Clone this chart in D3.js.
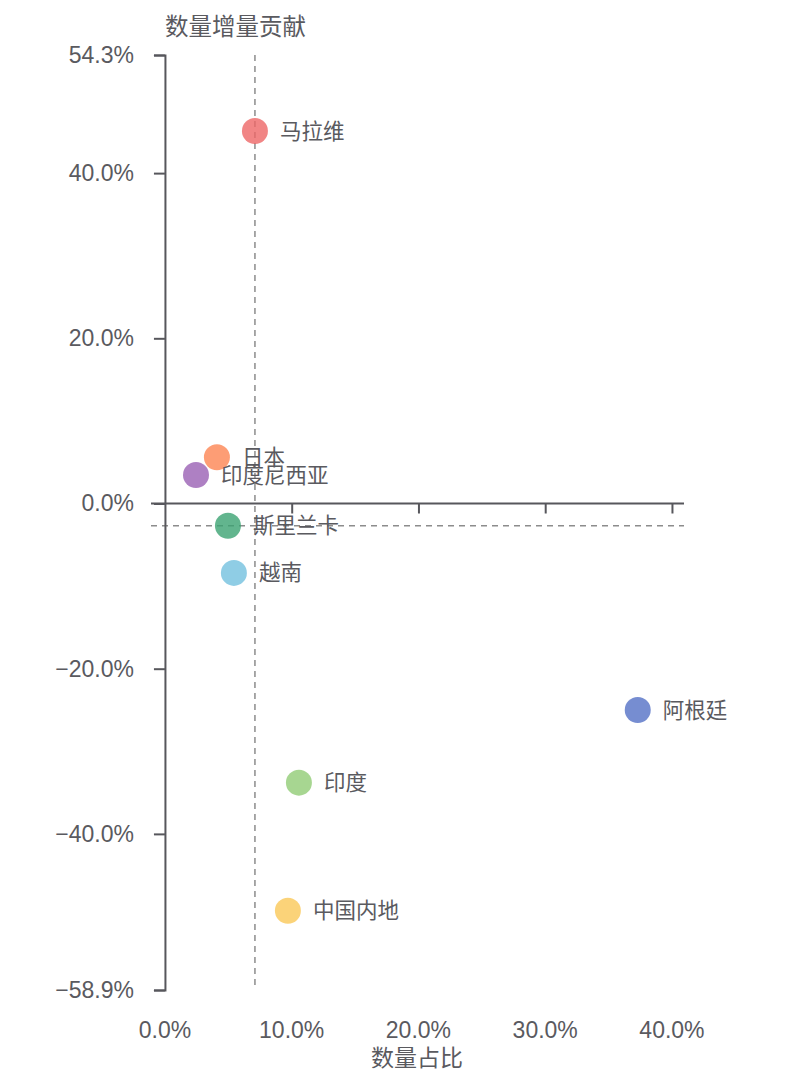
<!DOCTYPE html>
<html>
<head>
<meta charset="utf-8">
<script src="https://cdn.jsdelivr.net/npm/d3@7/dist/d3.min.js"></script>
<style>
  body { margin: 0; background: #fff; }
  text { font-family: "Liberation Sans", Arial, "Noto Sans CJK SC", sans-serif; }
</style>
</head>
<body>
<svg id="chart" width="804" height="1084"></svg>
<script>
// data
var names = ["马拉维", "日本", "印度尼西亚", "斯里兰卡", "越南", "阿根廷", "印度", "中国内地"];
var share = [7.1, 4.1, 2.45, 4.97, 5.44, 37.3, 10.57, 9.7];      // 数量占比 (%)
var contrib = [45.1, 5.6, 3.45, -2.7, -8.4, -25.0, -33.8, -49.3]; // 数量增量贡献 (%)
var colors = ["#ee6666", "#fc8452", "#9a60b4", "#3ba272", "#73c0de", "#5470c6", "#91cc75", "#fac858"];
var xTicks = [0, 10, 20, 30, 40];
var yTicks = [54.3, 40, 20, 0, -20, -40, -58.9];
var xRef = 7.1, yRef = -2.7;   // dashed reference lines
var xDomain = [-1.1, 40.95], yDomain = [-58.9, 54.3];

var svg = d3.select("#chart");
var axisColor = "#57575c";
var textColor = "#5a5a5f";

var x = d3.scaleLinear().domain(xDomain).range([151, 684]);
var y = d3.scaleLinear().domain(yDomain).range([990, 55]);

var fmt = function(v) { return (v < 0 ? "\u2212" : "") + Math.abs(v).toFixed(1) + "%"; };

// dashed reference lines
svg.append("line")
  .attr("x1", x(xRef)).attr("x2", x(xRef))
  .attr("y1", y(yDomain[1])).attr("y2", y(yDomain[0]))
  .attr("stroke", "#8c8c8c").attr("stroke-width", 1.5).attr("stroke-dasharray", "6,5");
svg.append("line")
  .attr("x1", x(xDomain[0])).attr("x2", x(xDomain[1]))
  .attr("y1", y(yRef)).attr("y2", y(yRef))
  .attr("stroke", "#8c8c8c").attr("stroke-width", 1.5).attr("stroke-dasharray", "6,5");

// y axis on x = 0
var yAxis = svg.append("g")
  .attr("transform", "translate(" + x(0) + ",0)")
  .call(d3.axisLeft(y).tickValues(yTicks).tickSize(11).tickPadding(20).tickFormat(fmt));

// x axis line on y = 0, labels down at the bottom
var xAxis = svg.append("g")
  .attr("transform", "translate(0," + y(0) + ")")
  .call(d3.axisBottom(x).tickValues(xTicks.filter(function(d){ return d > 0; })).tickSize(10).tickSizeOuter(0).tickFormat(""));

[yAxis, xAxis].forEach(function(g) {
  g.select(".domain").attr("stroke", axisColor).attr("stroke-width", 2);
  g.selectAll(".tick line").attr("stroke", axisColor).attr("stroke-width", 2);
});
yAxis.selectAll(".tick text").attr("fill", textColor).style("font-size", "23px");
xAxis.select(".domain").attr("d", "M" + x(xDomain[0]) + ",0H" + x(xDomain[1]));

svg.append("g").selectAll("text")
  .data(xTicks).enter().append("text")
  .attr("x", function(d){ return x(d); })
  .attr("y", 1038)
  .attr("text-anchor", "middle")
  .attr("fill", textColor)
  .style("font-size", "23px")
  .text(fmt);

// axis names
svg.append("text")
  .attr("x", x(0)).attr("y", 35)
  .attr("fill", textColor).style("font-size", "23.5px")
  .text("数量增量贡献");
svg.append("text")
  .attr("x", 417).attr("y", 1066)
  .attr("text-anchor", "middle")
  .attr("fill", textColor).style("font-size", "23px")
  .text("数量占比");

// points
var pts = svg.append("g").selectAll("g")
  .data(names).enter().append("g");

pts.append("circle")
  .attr("cx", function(d, i){ return x(share[i]); })
  .attr("cy", function(d, i){ return y(contrib[i]); })
  .attr("r", 13)
  .attr("fill", function(d, i){ return colors[i]; })
  .attr("fill-opacity", 0.8);

pts.append("text")
  .attr("x", function(d, i){ return x(share[i]) + 25; })
  .attr("y", function(d, i){ return y(contrib[i]); })
  .attr("dy", "0.35em")
  .attr("fill", textColor)
  .style("font-size", "21.5px")
  .text(function(d){ return d; });
</script>
</body>
</html>
